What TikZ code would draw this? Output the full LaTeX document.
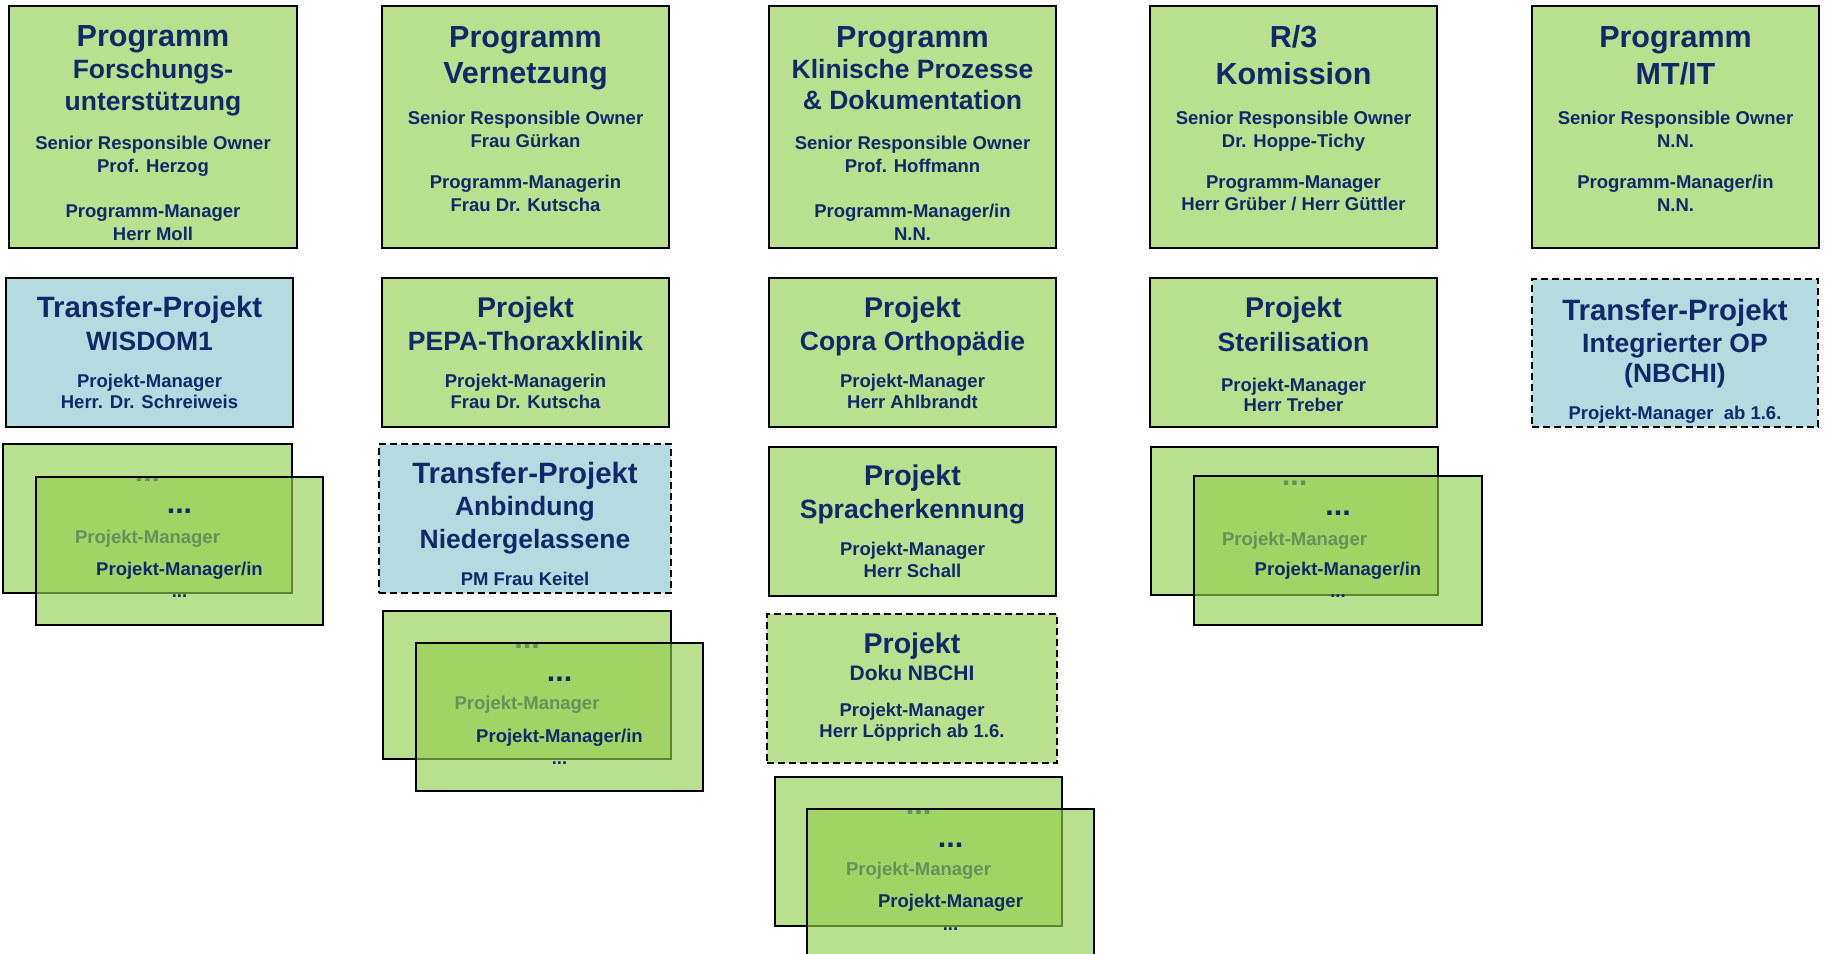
\documentclass[tikz,border=0pt]{standalone}
\usepackage{fontspec}
\setmainfont{Liberation Sans}
\usetikzlibrary{fit}
\definecolor{boxgreen}{HTML}{B9E08E}
\definecolor{boxblue}{HTML}{B4DBDF}
\definecolor{navy}{HTML}{0E2A6A}
\definecolor{frontgreen}{HTML}{92CF4E}
\newcommand\tl[5]{\node[#4] (#1) at (#2,#3) {#5};}
\newcommand\bx[6]{\node[#6,fit={(#2,#3)(#4,#5)}] (#1) {};}
\tikzset{
  txt/.style={text=navy, inner sep=0pt, anchor=base, font=\bfseries\fontsize{#1}{#1}\selectfont},
  ttl/.style={txt=30.5},
  trf/.style={txt=29.4},
  prj/.style={txt=28.5},
  sub/.style={txt=26.5},
  dok/.style={txt=21},
  sml/.style={txt=18.5},
  gbox/.style={draw=black, line width=2pt, fill=boxgreen, inner sep=0pt},
  bbox/.style={gbox, fill=boxblue},
  dashbox/.style={dash pattern=on 7pt off 4pt},
  fbox/.style={draw=black, line width=2pt, fill=frontgreen, fill opacity=0.64, inner sep=0pt}
}
\begin{document}
\begin{tikzpicture}[x=1pt,y=-1pt]
\useasboundingbox (0,0) rectangle (1825,953);
% ---------- top row ----------
\bx{P1}{9}{6}{297}{248}{gbox}
\tl{p1a}{153}{46}{ttl}{Programm}
\tl{p1b}{153}{78}{sub}{Forschungs-}
\tl{p1c}{153}{110}{sub}{unterstützung}
\tl{p1d}{153}{149}{sml}{Senior Responsible Owner}
\tl{p1e}{153}{172}{sml}{Prof. Herzog}
\tl{p1f}{153}{217}{sml}{Programm-Manager}
\tl{p1g}{153}{240}{sml}{Herr Moll}

\bx{P2}{382}{6}{669}{248}{gbox}
\tl{p2a}{525.5}{47}{ttl}{Programm}
\tl{p2b}{525.5}{83}{ttl}{Vernetzung}
\tl{p2c}{525.5}{124}{sml}{Senior Responsible Owner}
\tl{p2d}{525.5}{147}{sml}{Frau Gürkan}
\tl{p2e}{525.5}{188}{sml}{Programm-Managerin}
\tl{p2f}{525.5}{211}{sml}{Frau Dr. Kutscha}

\bx{P3}{769}{6}{1056}{248}{gbox}
\tl{p3a}{912.5}{47}{ttl}{Programm}
\tl{p3b}{912.5}{78}{sub}{Klinische Prozesse}
\tl{p3c}{912.5}{109}{sub}{\& Dokumentation}
\tl{p3d}{912.5}{149}{sml}{Senior Responsible Owner}
\tl{p3e}{912.5}{172}{sml}{Prof. Hoffmann}
\tl{p3f}{912.5}{217}{sml}{Programm-Manager/in}
\tl{p3g}{912.5}{240}{sml}{N.N.}

\bx{P4}{1150}{6}{1437}{248}{gbox}
\tl{p4a}{1293.5}{47}{ttl}{R/3}
\tl{p4b}{1293.5}{84}{ttl}{Komission}
\tl{p4c}{1293.5}{124}{sml}{Senior Responsible Owner}
\tl{p4d}{1293.5}{147}{sml}{Dr. Hoppe-Tichy}
\tl{p4e}{1293.5}{188}{sml}{Programm-Manager}
\tl{p4f}{1293.5}{210}{sml}{Herr Grüber / Herr Güttler}

\bx{P5}{1532}{6}{1819}{248}{gbox}
\tl{p5a}{1675.5}{47}{ttl}{Programm}
\tl{p5b}{1675.5}{84}{ttl}{MT/IT}
\tl{p5c}{1675.5}{124}{sml}{Senior Responsible Owner}
\tl{p5d}{1675.5}{147}{sml}{N.N.}
\tl{p5e}{1675.5}{188}{sml}{Programm-Manager/in}
\tl{p5f}{1675.5}{211}{sml}{N.N.}

% ---------- second row ----------
\bx{R1}{6}{278}{293}{427}{bbox}
\tl{r1a}{149.5}{317}{trf}{Transfer-Projekt}
\tl{r1b}{149.5}{350}{sub}{WISDOM1}
\tl{r1c}{149.5}{387}{sml}{Projekt-Manager}
\tl{r1d}{149.5}{408}{sml}{Herr. Dr. Schreiweis}

\bx{R2}{382}{278}{669}{427}{gbox}
\tl{r2a}{525.5}{317}{prj}{Projekt}
\tl{r2b}{525.5}{350}{sub}{PEPA-Thoraxklinik}
\tl{r2c}{525.5}{387}{sml}{Projekt-Managerin}
\tl{r2d}{525.5}{408}{sml}{Frau Dr. Kutscha}

\bx{R3}{769}{278}{1056}{427}{gbox}
\tl{r3a}{912.5}{317}{prj}{Projekt}
\tl{r3b}{912.5}{350}{sub}{Copra Orthopädie}
\tl{r3c}{912.5}{387}{sml}{Projekt-Manager}
\tl{r3d}{912.5}{408}{sml}{Herr Ahlbrandt}

\bx{R4}{1150}{278}{1437}{427}{gbox}
\tl{r4a}{1293.5}{317}{prj}{Projekt}
\tl{r4b}{1293.5}{351}{sub}{Sterilisation}
\tl{r4c}{1293.5}{391}{sml}{Projekt-Manager}
\tl{r4d}{1293.5}{411}{sml}{Herr Treber}

\bx{R5}{1532}{279}{1818}{427}{bbox,dashbox}
\tl{r5a}{1675}{320}{trf}{Transfer-Projekt}
\tl{r5b}{1675}{352}{sub}{Integrierter OP}
\tl{r5c}{1675}{382}{sub}{(NBCHI)}
\tl{r5d}{1675}{419}{sml}{Projekt-Manager\ \ ab 1.6.}

% ---------- column 1 stack ----------
\bx{A1}{3}{444}{292}{593}{gbox}
\tl{a1a}{147.5}{481}{ttl}{...}
\tl{a1b}{147.5}{543}{sml}{Projekt-Manager}
\bx{B1}{36}{477}{323}{625}{fbox}
\tl{b1a}{179.5}{513}{ttl}{...}
\tl{b1b}{179.5}{575}{sml}{Projekt-Manager/in}
\tl{b1c}{179.5}{597}{sml}{...}

% ---------- column 2 ----------
\bx{T2}{379}{444}{671}{593}{bbox,dashbox}
\tl{t2a}{525}{483}{trf}{Transfer-Projekt}
\tl{t2b}{525}{515}{sub}{Anbindung}
\tl{t2c}{525}{548}{sub}{Niedergelassene}
\tl{t2d}{525}{585}{sml}{PM Frau Keitel}

\bx{A2}{383}{611}{671}{759}{gbox}
\tl{a2a}{527}{648}{ttl}{...}
\tl{a2b}{527}{709}{sml}{Projekt-Manager}
\bx{B2}{416}{643}{703}{791}{fbox}
\tl{b2a}{559.5}{681}{ttl}{...}
\tl{b2b}{559.5}{742}{sml}{Projekt-Manager/in}
\tl{b2c}{559.5}{764}{sml}{...}

% ---------- column 3 ----------
\bx{S3}{769}{447}{1056}{596}{gbox}
\tl{s3a}{912.5}{485}{prj}{Projekt}
\tl{s3b}{912.5}{518}{sub}{Spracherkennung}
\tl{s3c}{912.5}{555}{sml}{Projekt-Manager}
\tl{s3d}{912.5}{577}{sml}{Herr Schall}

\bx{D3}{767}{614}{1057}{763}{gbox,dashbox}
\tl{d3a}{912}{653}{prj}{Projekt}
\tl{d3b}{912}{680}{dok}{Doku NBCHI}
\tl{d3c}{912}{716}{sml}{Projekt-Manager}
\tl{d3d}{912}{737}{sml}{Herr Löpprich ab 1.6.}

\bx{A3}{775}{777}{1062}{926}{gbox}
\tl{a3a}{918.5}{814}{ttl}{...}
\tl{a3b}{918.5}{875}{sml}{Projekt-Manager}
\bx{B3}{807}{809}{1094}{958}{fbox}
\tl{b3a}{950.5}{847}{ttl}{...}
\tl{b3b}{950.5}{907}{sml}{Projekt-Manager}
\tl{b3c}{950.5}{930}{sml}{...}

% ---------- column 4 stack ----------
\bx{A4}{1151}{447}{1438}{595}{gbox}
\tl{a4a}{1294.5}{485}{ttl}{...}
\tl{a4b}{1294.5}{545}{sml}{Projekt-Manager}
\bx{B4}{1194}{476}{1482}{625}{fbox}
\tl{b4a}{1338}{515}{ttl}{...}
\tl{b4b}{1338}{575}{sml}{Projekt-Manager/in}
\tl{b4c}{1338}{597}{sml}{...}
\end{tikzpicture}
\end{document}
